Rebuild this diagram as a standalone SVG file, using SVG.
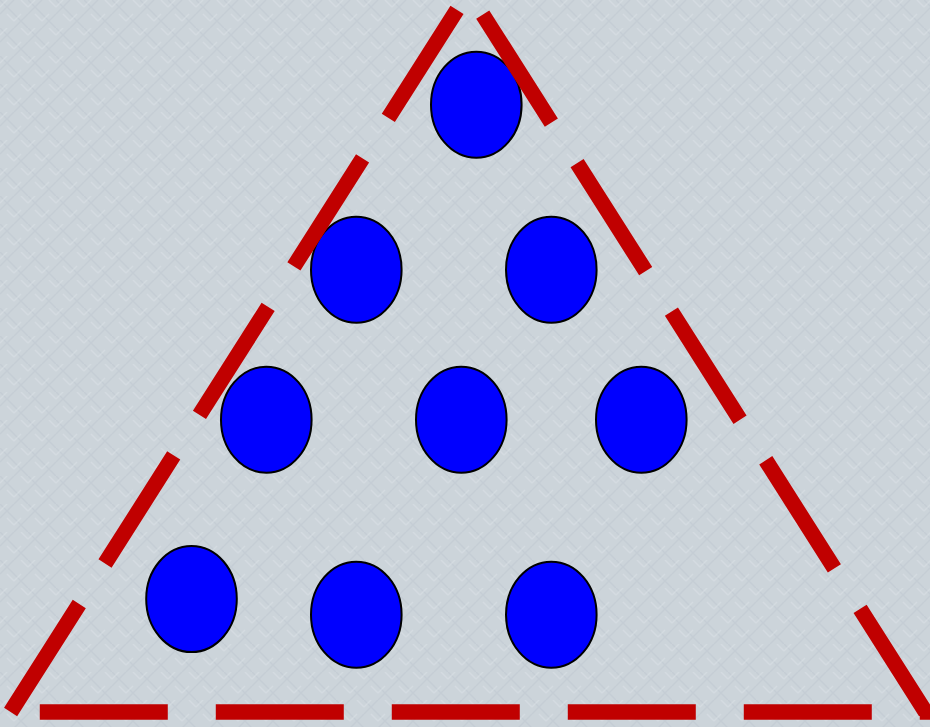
<svg xmlns="http://www.w3.org/2000/svg" width="930" height="727" viewBox="0 0 930 727">
  <defs>
    <pattern id="weave" width="28" height="28" patternUnits="userSpaceOnUse">
      <rect width="28" height="28" fill="#ccd4da"/>
      <path d="M0 0 L14 14 M14 0 L0 14 M14 14 L28 28 M28 14 L14 28" stroke="#bcc6ce" stroke-width="1.5" opacity="0.45"/>
      <path d="M7 0 L0 7 M21 14 L14 21 M21 0 L28 7 M7 14 L14 21" stroke="#dce2e7" stroke-width="1.5" opacity="0.5"/>
    </pattern>
    <style>
      .dot { fill: #0000ff; stroke: #000000; stroke-width: 2; }
      .tri { fill: none; stroke: #c00000; stroke-width: 15.5; stroke-dasharray: 128 48; stroke-linecap: butt; stroke-linejoin: miter; }
    </style>
  </defs>
  <rect id="background" x="0" y="0" width="930" height="727" fill="url(#weave)"/>
  <g id="nodes">
    <g id="n1"><ellipse class="dot" cx="476.3" cy="104.7" rx="45.3" ry="53"/></g>
    <g id="n2"><ellipse class="dot" cx="356.3" cy="269.7" rx="45.3" ry="53"/></g>
    <g id="n3"><ellipse class="dot" cx="551.3" cy="269.7" rx="45.3" ry="53"/></g>
    <g id="n4"><ellipse class="dot" cx="266.3" cy="419.7" rx="45.3" ry="53"/></g>
    <g id="n5"><ellipse class="dot" cx="461.3" cy="419.7" rx="45.3" ry="53"/></g>
    <g id="n6"><ellipse class="dot" cx="641.3" cy="419.7" rx="45.3" ry="53"/></g>
    <g id="n7"><ellipse class="dot" cx="191.5" cy="599" rx="45.3" ry="53"/></g>
    <g id="n8"><ellipse class="dot" cx="356.3" cy="614.7" rx="45.3" ry="53"/></g>
    <g id="n9"><ellipse class="dot" cx="551.3" cy="614.7" rx="45.3" ry="53"/></g>
  </g>
  <g id="connectors">
    <polygon class="tri" points="10.6,712 468.4,-8.04 925.6,712"/>
  </g>
</svg>
